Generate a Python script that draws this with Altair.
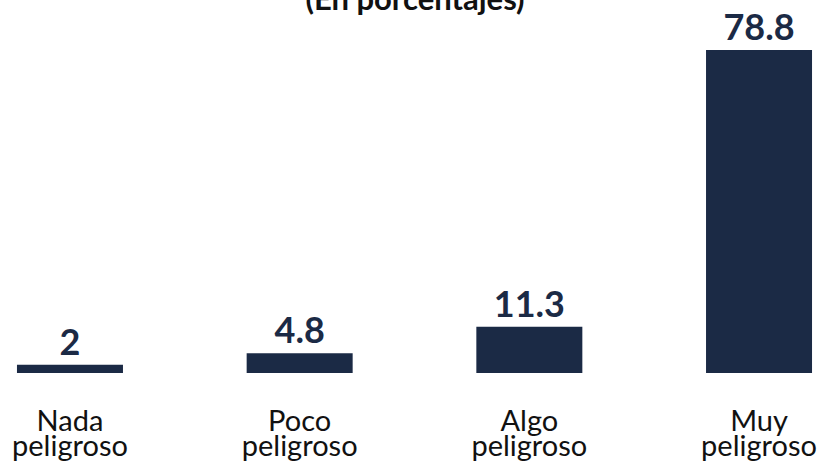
import altair as alt
import pandas as pd

categorias = ["Nada peligroso", "Poco peligroso", "Algo peligroso", "Muy peligroso"]
valores = [2, 4.8, 11.3, 78.8]
etiquetas = ["2", "4.8", "11.3", "78.8"]
titulo = ["(En porcentajes)"]

df = pd.DataFrame({"cat": categorias, "val": valores, "lab": etiquetas})
df_t = pd.DataFrame({"t": titulo})

navy = "#1b2a45"

x = alt.X(
    "cat:N",
    sort=categorias,
    title=None,
    scale=alt.Scale(paddingInner=0.5385, paddingOuter=0.026),
    axis=alt.Axis(
        labelExpr="split(datum.label, ' ')",
        labelAngle=0,
        labelFont="Lato",
        labelFontSize=29,
        labelLineHeight=25,
        labelColor="#111111",
        labelPadding=34,
        labelBaseline="top",
        ticks=False,
        domain=False,
        grid=False,
    ),
)
y = alt.Y("val:Q", scale=alt.Scale(domain=[0, 91]), axis=None)

bars = alt.Chart(df).mark_bar(color=navy).encode(x=x, y=y)
text = alt.Chart(df).mark_text(
    font="Lato", fontSize=36, fontWeight="bold", color=navy, dy=-10, baseline="alphabetic"
).encode(x=alt.X("cat:N", sort=categorias), y=y, text="lab:N")

title = alt.Chart(df_t).mark_text(
    font="Lato", fontSize=31, fontWeight="bold", color="#111111", baseline="alphabetic", align="center"
).encode(x=alt.value(404), y=alt.value(10), text="t:N")

chart = alt.layer(bars, text, title).properties(
    width=807,
    height=373,
    autosize=alt.AutoSizeParams(type="none"),
    padding={"left": 11, "top": 0, "right": 0, "bottom": 95},
).configure_view(stroke=None)

chart.save("out.html", embed_options={"renderer": "svg", "actions": False})
